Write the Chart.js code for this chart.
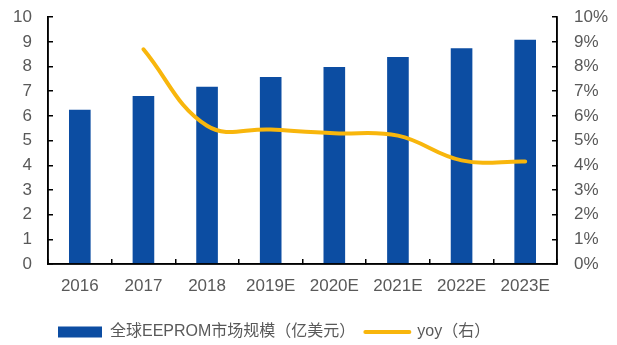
<!DOCTYPE html>
<html>
<head>
<meta charset="utf-8">
<script src="https://cdn.jsdelivr.net/npm/chart.js@4/dist/chart.umd.min.js"></script>
<style>
  html, body { margin: 0; padding: 0; background: #fff; }
  #wrap { position: relative; width: 617px; height: 345px; overflow: hidden; }
  #chartBox { position: absolute; left: 0; top: -15px; width: 617px; height: 365px; }
  #status { position: absolute; left: 0; top: 0; font-size: 1px; color: transparent; }
</style>
</head>
<body>
<div id="wrap">
  <div id="chartBox"><canvas id="c"></canvas></div>
  <span id="status"></span>
</div>
<script>
// Global EEPROM market size (USD 100M) and year-on-year growth
const years = ['2016', '2017', '2018', '2019E', '2020E', '2021E', '2022E', '2023E'];
const marketSize = [6.25, 6.81, 7.18, 7.58, 7.98, 8.39, 8.74, 9.09];
const yoyPct = [null, 8.7, 5.6, 5.45, 5.3, 5.2, 4.2, 4.15];

const FONT = { family: '"Liberation Sans", Arial, sans-serif', size: 17 };
const LEGEND_FONT = { family: '"Liberation Sans", Arial, "Noto Sans CJK SC", sans-serif', size: 16 };
const TEXT = '#595959';
const BLUE = '#0C4DA2';
const GOLD = '#F8B60C';

// black axis lines with short tick marks pointing into the plot
const axisBorder = { display: true, color: '#000000', width: 1.5 };
const inwardTicks = { display: true, drawOnChartArea: false, drawTicks: true, tickLength: -5, color: '#000000', lineWidth: 1.5 };

// frame drawn from the scales after every render
let renders = 0;
const axisFrame = {
  id: 'axisFrame',
  afterDraw(chart) {
    const ctx = chart.ctx, a = chart.chartArea;
    ctx.save();
    ctx.strokeStyle = '#000000';
    ctx.lineWidth = 1.5;
    ctx.beginPath();
    ctx.moveTo(a.left, a.top);
    ctx.lineTo(a.left, a.bottom);
    ctx.lineTo(a.right, a.bottom);
    ctx.lineTo(a.right, a.top);
    ctx.stroke();
    ctx.restore();
    renders++;
    document.getElementById('status').textContent = 'rendered ' + renders;
  }
};

new Chart(document.getElementById('c'), {
  data: {
    labels: years,
    datasets: [
      { type: 'bar', label: '全球EEPROM市场规模（亿美元）', data: marketSize, yAxisID: 'y',
        backgroundColor: BLUE, categoryPercentage: 1, barPercentage: 0.34, order: 1 },
      { type: 'line', label: 'yoy（右）', data: yoyPct, yAxisID: 'y1',
        borderColor: GOLD, borderWidth: 4, pointRadius: 0, tension: 0.4,
        borderCapStyle: 'round', fill: false, order: 0 }
    ]
  },
  options: {
    responsive: true,
    maintainAspectRatio: false,
    animation: false,
    layout: { padding: { top: 6 } },
    plugins: {
      tooltip: { enabled: false },
      legend: {
        position: 'bottom', align: 'start', fullSize: false,
        labels: {
          usePointStyle: true, pointStyleWidth: 44, boxHeight: 11, padding: 10,
          color: TEXT, font: LEGEND_FONT,
          generateLabels(chart) {
            return chart.data.datasets.map((ds, i) => ds.type === 'bar'
              ? { text: ds.label, fillStyle: BLUE, strokeStyle: BLUE, lineWidth: 0, pointStyle: 'rect', datasetIndex: i, fontColor: TEXT }
              : { text: ds.label, fillStyle: GOLD, strokeStyle: GOLD, lineWidth: 4, lineCap: 'round', pointStyle: 'line', datasetIndex: i, fontColor: TEXT });
          }
        }
      }
    },
    scales: {
      x: {
        grid: { ...inwardTicks, offset: true }, border: axisBorder,
        ticks: { color: TEXT, font: FONT, padding: 17, maxRotation: 0 },
        afterFit(s) { s.height = 50; }
      },
      y: {
        position: 'left', min: 0, max: 10,
        grid: inwardTicks, border: axisBorder,
        ticks: { stepSize: 1, color: TEXT, font: FONT, padding: 21 },
        afterFit(s) { s.width = 48; }
      },
      y1: {
        position: 'right', min: 0, max: 10,
        grid: inwardTicks, border: axisBorder,
        ticks: { stepSize: 1, color: TEXT, font: FONT, padding: 22, callback: v => v + '%' },
        afterFit(s) { s.width = 60; }
      }
    }
  },
  plugins: [axisFrame]
});
</script>
</body>
</html>
